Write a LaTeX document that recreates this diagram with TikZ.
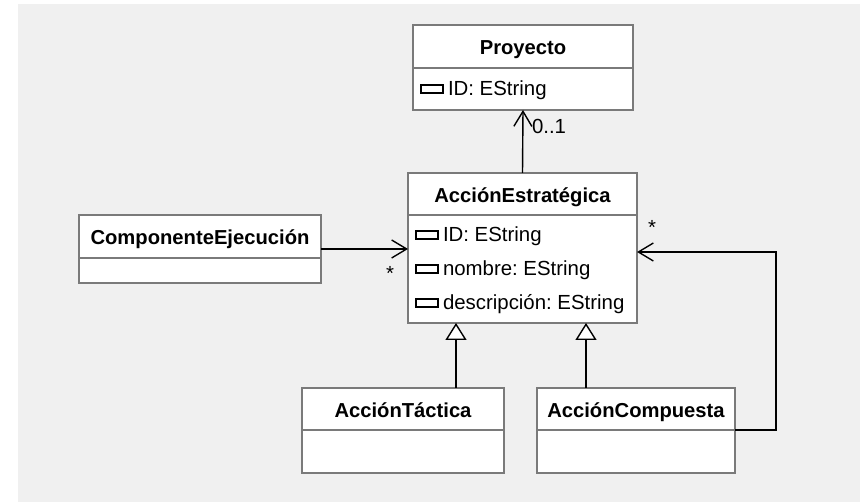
\documentclass[tikz,border=0pt]{standalone}
\usepackage{fontspec}
\setmainfont{Liberation Sans}
\usetikzlibrary{arrows.meta}
\definecolor{pagebg}{HTML}{F0F0F0}
\definecolor{boxline}{HTML}{7A7A7A}
\frenchspacing

\begin{document}
\begin{tikzpicture}[x=1pt,y=-1pt,
  every node/.style={font=\fontsize{20.4}{24}\selectfont\frenchspacing, inner sep=0pt, outer sep=0pt},
  classbox/.style={draw=boxline, fill=white, line width=1.3pt, anchor=north west},
  title/.style={font=\fontsize{20.2}{24}\selectfont\bfseries, anchor=base},
  attr/.style={anchor=base west},
  icon/.style={draw=black, line width=1.2pt, minimum width=22pt, minimum height=8pt, anchor=west},
  divider/.style={draw=boxline, line width=1.3pt},
  assoc/.style={draw=black, line width=1.4pt, -{Straight Barb[length=15pt, width=18pt, line width=1.4pt]}},
  gen/.style={draw=black, line width=1.4pt, -{Triangle[open, length=17pt, width=21pt, fill=white, line width=1.4pt]}},
  mult/.style={anchor=base}
]
% canvas
\useasboundingbox (0,0) rectangle (860,502);
\fill[white] (0,0) rectangle (860,502);
\fill[pagebg] (18,4) rectangle (860,502);

% Proyecto
\node[classbox, minimum width=220pt, minimum height=85pt] (proy) at (413,25) {};
\draw[divider] ([yshift=-43pt]proy.north west) -- ([yshift=-43pt]proy.north east);
\node[title] at ([yshift=-30pt]proy.north) {Proyecto};
\node[icon] (pi1) at ([xshift=8pt,yshift=-64pt]proy.north west) {};
\node[attr] at ([xshift=5pt,yshift=-7pt]pi1.east) {ID: EString};

% AcciónEstratégica
\node[classbox, minimum width=229pt, minimum height=150pt] (acc) at (408,173) {};
\draw[divider] ([yshift=-42pt]acc.north west) -- ([yshift=-42pt]acc.north east);
\node[title] at ([yshift=-30pt]acc.north) {AcciónEstratégica};
\node[icon] (ai1) at ([xshift=8pt,yshift=-62pt]acc.north west) {};
\node[attr] at ([xshift=5pt,yshift=-7pt]ai1.east) {ID: EString};
\node[icon] (ai2) at ([xshift=8pt,yshift=-96pt]acc.north west) {};
\node[attr] at ([xshift=5pt,yshift=-7pt]ai2.east) {nombre: EString};
\node[icon] (ai3) at ([xshift=8pt,yshift=-130pt]acc.north west) {};
\node[attr] at ([xshift=5pt,yshift=-7pt]ai3.east) {descripción: EString};

% ComponenteEjecución
\node[classbox, minimum width=242pt, minimum height=68pt] (comp) at (79,215) {};
\draw[divider] ([yshift=-43pt]comp.north west) -- ([yshift=-43pt]comp.north east);
\node[title] at ([yshift=-30pt]comp.north) {ComponenteEjecución};

% AcciónTáctica
\node[classbox, minimum width=202pt, minimum height=85pt] (tact) at (302,388) {};
\draw[divider] ([yshift=-42pt]tact.north west) -- ([yshift=-42pt]tact.north east);
\node[title] at ([yshift=-30pt]tact.north) {AcciónTáctica};

% AcciónCompuesta
\node[classbox, minimum width=198pt, minimum height=85pt] (compu) at (537,388) {};
\draw[divider] ([yshift=-42pt]compu.north west) -- ([yshift=-42pt]compu.north east);
\node[title] at ([yshift=-30pt]compu.north) {AcciónCompuesta};

% associations
\draw[assoc] (acc.north) -- (proy.south);
\node[mult, anchor=base west] at ([xshift=9pt,yshift=-24pt]proy.south) {0..1};

\draw[assoc] (comp.east) -- (comp.east -| acc.west);
\node[mult] at ([xshift=-18pt,yshift=-33pt]acc.west) {*};

\coordinate (cdiv) at ([yshift=-42pt]compu.north east);
\coordinate (loopc) at (776,252);
\draw[assoc] (cdiv) -| (loopc) -- (loopc -| acc.east);
\node[mult] at ([xshift=15pt,yshift=13pt]acc.east) {*};

% generalizations
\coordinate (g1) at (456,0);
\coordinate (g2) at (586,0);
\draw[gen] (tact.north -| g1) -- (acc.south -| g1);
\draw[gen] (compu.north -| g2) -- (acc.south -| g2);
\end{tikzpicture}
\end{document}
